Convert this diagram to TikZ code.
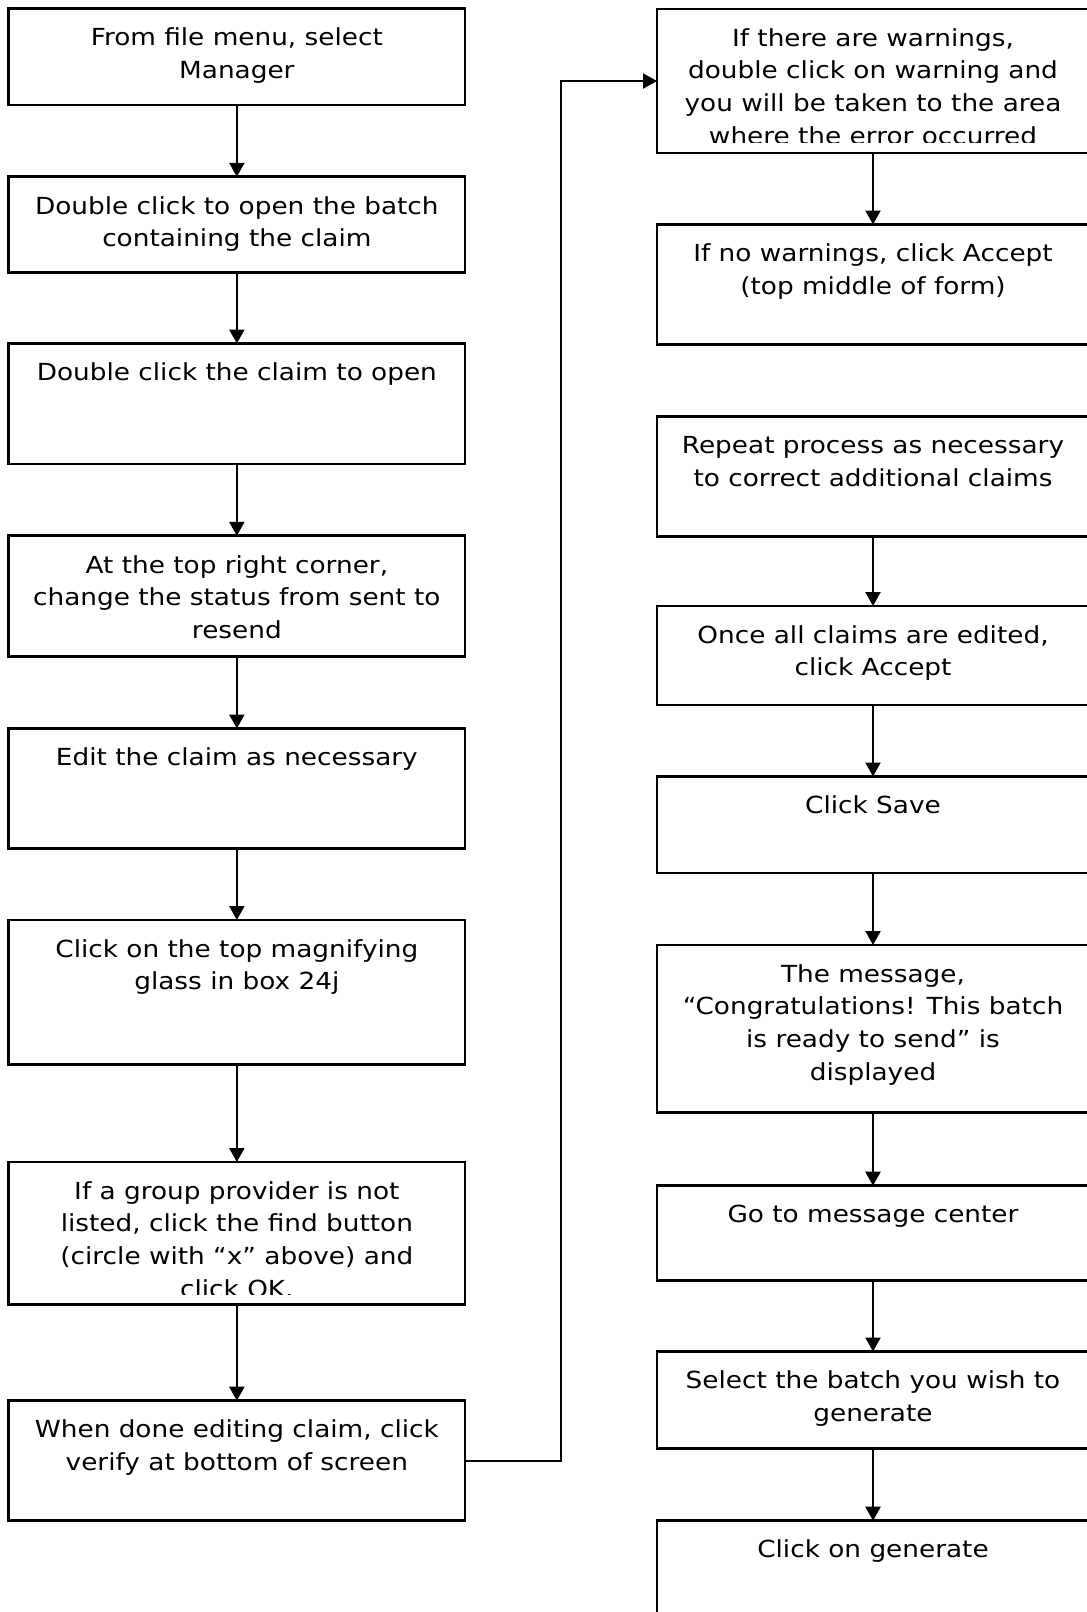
\documentclass[tikz,border=0pt]{standalone}
\usepackage{fontspec}
\setmainfont[FakeStretch=1.12]{DejaVu Sans}
\usetikzlibrary{arrows.meta,calc}
\begin{document}
\begin{tikzpicture}[x=1pt,y=-1pt,
  lbox/.style={draw, line width=2.8pt, inner sep=0pt, outer sep=0pt, anchor=north west, minimum width=456.3pt},
  rbox/.style={draw, line width=2.8pt, inner sep=0pt, outer sep=0pt, anchor=north west, minimum width=432pt},
  txt/.style={anchor=north, align=center, inner sep=0pt, font=\fontsize{23.5pt}{32.7pt}\selectfont},
  arr/.style={line width=2.2pt, -{Triangle[width=15pt,length=14pt]}}]
\fill[white] (0,0) rectangle (1087,1612);
\useasboundingbox (0,0) rectangle (1087,1612);
% left column
\node[lbox, minimum height=96.3pt] (b1) at (8.7,8.7) {};
\node[lbox, minimum height=95.9pt] (b2) at (8.7,176.8) {};
\node[lbox, minimum height=120.5pt] (b3) at (8.7,343.5) {};
\node[lbox, minimum height=120.4pt] (b4) at (8.7,535.8) {};
\node[lbox, minimum height=120pt] (b5) at (8.7,728.5) {};
\node[lbox, minimum height=144.4pt] (b6) at (8.7,920) {};
\node[lbox, minimum height=142.5pt] (b7) at (8.7,1162) {};
\node[lbox, minimum height=120pt] (b8) at (8.7,1400.7) {};
% right column
\node[rbox, minimum height=144pt] (r1) at (657,9) {};
\node[rbox, minimum height=120pt] (r2) at (657,224.5) {};
\node[rbox, minimum height=120.3pt] (r3) at (657,416.5) {};
\node[rbox, minimum height=99pt] (r4) at (657,606) {};
\node[rbox, minimum height=96.5pt] (r5) at (657,776.5) {};
\node[rbox, minimum height=167.7pt] (r6) at (657,945) {};
\node[rbox, minimum height=95pt] (r7) at (657,1185.7) {};
\node[rbox, minimum height=96.8pt] (r8) at (657,1351.5) {};
\node[rbox, minimum height=110pt] (r9) at (657,1520.7) {};
% texts
\node[txt] (t1) at ([yshift=-13pt]b1.north) {\rule{0pt}{24pt}From file menu, select\\Manager};
\node[txt] (t2) at ([yshift=-13pt]b2.north) {\rule{0pt}{24pt}Double click to open the batch\\containing the claim};
\node[txt] (t3) at ([yshift=-13pt]b3.north) {\rule{0pt}{24pt}Double click the claim to open};
\node[txt] (t4) at ([yshift=-13pt]b4.north) {\rule{0pt}{24pt}At the top right corner,\\change the status from sent to\\resend};
\node[txt] (t5) at ([yshift=-13pt]b5.north) {\rule{0pt}{24pt}Edit the claim as necessary};
\node[txt] (t6) at ([yshift=-13pt]b6.north) {\rule{0pt}{24pt}Click on the top magnifying\\glass in box 24j};
\begin{scope}
\clip (b7.north west) rectangle ([yshift=10pt]b7.south east);
\node[txt] (t7) at ([yshift=-13pt]b7.north) {\rule{0pt}{24pt}If a group provider is not\\listed, click the find button\\(circle with “x” above) and\\click OK.};
\end{scope}
\node[txt] (t8) at ([yshift=-13pt]b8.north) {\rule{0pt}{24pt}When done editing claim, click\\verify at bottom of screen};
\begin{scope}
\clip (r1.north west) rectangle ([yshift=11pt]r1.south east);
\node[txt] (u1) at ([yshift=-13pt]r1.north) {\rule{0pt}{24pt}If there are warnings,\\double click on warning and\\you will be taken to the area\\where the error occurred};
\end{scope}
\node[txt] (u2) at ([yshift=-13pt]r2.north) {\rule{0pt}{24pt}If no warnings, click Accept\\(top middle of form)};
\node[txt] (u3) at ([yshift=-13pt]r3.north) {\rule{0pt}{24pt}Repeat process as necessary\\to correct additional claims};
\node[txt] (u4) at ([yshift=-13pt]r4.north) {\rule{0pt}{24pt}Once all claims are edited,\\click Accept};
\node[txt] (u5) at ([yshift=-13pt]r5.north) {\rule{0pt}{24pt}Click Save};
\node[txt] (u6) at ([yshift=-13pt]r6.north) {\rule{0pt}{24pt}The message,\\“Congratulations! This batch\\is ready to send” is\\displayed};
\node[txt] (u7) at ([yshift=-13pt]r7.north) {\rule{0pt}{24pt}Go to message center};
\node[txt] (u8) at ([yshift=-13pt]r8.north) {\rule{0pt}{24pt}Select the batch you wish to\\generate};
\node[txt] (u9) at ([yshift=-13pt]r9.north) {\rule{0pt}{24pt}Click on generate};
% arrows
\draw[arr] (b1.south) -- (b2.north);
\draw[arr] (b2.south) -- (b3.north);
\draw[arr] (b3.south) -- (b4.north);
\draw[arr] (b4.south) -- (b5.north);
\draw[arr] (b5.south) -- (b6.north);
\draw[arr] (b6.south) -- (b7.north);
\draw[arr] (b7.south) -- (b8.north);
\coordinate (jx) at (560.7,0);
\draw[arr] (b8.east) -- (b8.east -| jx) |- (r1.west);
\draw[arr] (r1.south) -- (r2.north);
\draw[arr] (r3.south) -- (r4.north);
\draw[arr] (r4.south) -- (r5.north);
\draw[arr] (r5.south) -- (r6.north);
\draw[arr] (r6.south) -- (r7.north);
\draw[arr] (r7.south) -- (r8.north);
\draw[arr] (r8.south) -- (r9.north);
\end{tikzpicture}
\end{document}
